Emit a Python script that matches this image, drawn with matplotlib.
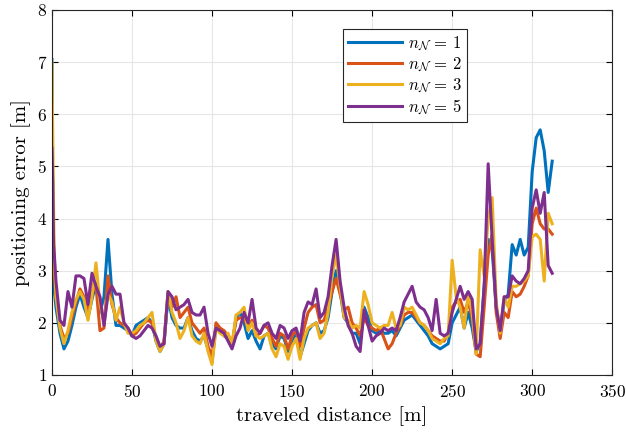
import numpy as np
import matplotlib
matplotlib.use("Agg")
import matplotlib.pyplot as plt

plt.rcParams['font.family'] = 'serif'
plt.rcParams['font.serif'] = ['cmr10']
plt.rcParams['mathtext.fontset'] = 'cm'
plt.rcParams['axes.formatter.use_mathtext'] = True

# traveled distance [m]
dist = np.concatenate([[0, 0.5, 1, 1.5], np.arange(2.5, 312.6, 2.5)])

err_n1 = [7.05, 3.4, 2.9, 2.6,
          2.3, 1.8, 1.5, 1.65, 1.95, 2.3, 2.55, 2.3, 2.1, 2.45, 2.75, 2.2,
          2.5, 3.6, 2.55, 1.95, 1.95, 1.9, 1.85, 1.75, 1.95, 2.0, 2.05, 2.1,
          2.0, 1.65, 1.45, 1.6, 2.5, 2.1, 1.95, 1.9, 1.9, 2.1, 1.85, 1.7,
          1.65, 1.75, 1.5, 1.25, 1.95, 1.85, 1.75, 1.7, 1.55, 2.1, 2.2, 2.0,
          1.7, 1.85, 1.65, 1.5, 1.75, 1.8, 1.6, 1.5, 1.75, 1.7, 1.45, 1.6,
          1.8, 1.35, 1.6, 1.85, 1.95, 2.0, 1.8, 1.85, 2.1, 2.6, 3.0, 2.6,
          2.1, 2.0, 1.8, 1.8, 1.6, 2.3, 2.1, 1.85, 1.8, 1.85, 1.8, 1.8,
          1.85, 1.75, 1.9, 2.05, 2.1, 2.15, 2.05, 1.95, 1.85, 1.75, 1.6, 1.55,
          1.5, 1.55, 1.6, 2.0, 2.15, 2.3, 1.9, 2.2, 1.9, 1.45, 1.6, 2.7,
          3.6, 3.4, 2.3, 1.85, 2.4, 2.55, 3.5, 3.3, 3.6, 3.3, 3.45, 4.9,
          5.55, 5.7, 5.3, 4.5, 5.1]
err_n2 = [4.5, 4.4, 3.6, 3.0,
          2.5, 1.95, 1.7, 1.8, 2.1, 2.4, 2.65, 2.5, 2.2, 2.6, 2.7, 1.85,
          1.9, 2.9, 2.35, 2.1, 2.0, 1.95, 1.9, 1.75, 1.8, 1.9, 2.0, 2.05,
          2.0, 1.7, 1.5, 1.65, 2.55, 2.3, 2.5, 2.1, 2.2, 2.3, 2.0, 1.9,
          1.8, 1.9, 1.55, 1.35, 2.0, 1.9, 1.85, 1.75, 1.6, 2.05, 2.1, 2.1,
          1.9, 2.05, 1.75, 1.8, 1.95, 1.9, 1.7, 1.55, 1.8, 1.75, 1.5, 1.75,
          1.85, 1.55, 1.9, 2.2, 2.3, 2.35, 2.0, 2.05, 2.3, 2.6, 2.85, 2.55,
          2.25, 2.3, 2.0, 1.9, 1.75, 2.1, 1.95, 1.9, 1.85, 1.9, 1.7, 1.5,
          1.6, 1.8, 1.95, 2.15, 2.2, 2.2, 2.1, 2.0, 1.95, 1.85, 1.75, 1.7,
          1.65, 1.65, 1.8, 2.3, 2.4, 2.45, 2.2, 2.4, 2.1, 1.4, 1.35, 2.3,
          3.3, 3.7, 2.2, 1.7, 2.2, 2.1, 2.6, 2.5, 2.55, 2.7, 2.9, 3.9,
          4.2, 3.9, 3.8, 3.8, 3.7]
err_n3 = [7.0, 5.6, 4.2, 3.2,
          2.5, 1.9, 1.6, 1.85, 2.2, 2.45, 2.6, 2.45, 2.05, 2.5, 3.15, 2.35,
          2.0, 2.55, 2.4, 2.05, 2.3, 2.0, 1.8, 1.8, 1.85, 1.95, 2.0, 2.1,
          2.2, 1.65, 1.45, 1.6, 2.6, 2.2, 2.0, 1.7, 1.85, 2.1, 1.75, 1.65,
          1.6, 1.8, 1.45, 1.2, 1.9, 1.8, 1.75, 1.8, 1.6, 2.15, 2.2, 2.3,
          1.85, 2.0, 1.75, 1.7, 1.75, 1.8, 1.5, 1.35, 1.6, 1.55, 1.3, 1.55,
          1.7, 1.3, 1.7, 1.9, 1.95, 2.0, 1.7, 1.8, 2.2, 2.9, 3.3, 2.7,
          2.1, 2.05, 1.9, 1.95, 1.9, 2.6, 2.35, 2.0, 1.95, 1.9, 1.95, 1.95,
          2.2, 1.9, 1.95, 2.3, 2.25, 2.3, 2.15, 2.0, 1.95, 1.85, 1.7, 1.65,
          1.6, 1.7, 1.75, 3.2, 2.5, 2.3, 1.9, 2.55, 2.2, 1.4, 3.4, 2.9,
          4.0, 4.4, 2.4, 1.8, 2.5, 2.3, 2.7, 2.7, 2.75, 2.8, 2.9, 3.65,
          3.7, 3.6, 2.8, 4.1, 3.9]
err_n5 = [5.35, 4.7, 3.5, 3.3,
          2.8, 2.05, 1.95, 2.6, 2.3, 2.9, 2.9, 2.85, 2.35, 2.95, 2.7, 2.5,
          1.95, 2.55, 2.7, 2.55, 2.55, 2.0, 1.9, 1.75, 1.7, 1.75, 1.85, 1.95,
          1.9, 1.75, 1.55, 1.6, 2.6, 2.5, 2.25, 2.3, 2.35, 2.45, 2.2, 2.15,
          2.15, 2.3, 1.8, 1.55, 1.9, 1.85, 1.8, 1.65, 1.5, 1.75, 1.9, 2.2,
          2.0, 2.45, 1.9, 1.8, 1.95, 2.0, 1.8, 1.7, 1.95, 1.9, 1.7, 1.85,
          1.9, 1.65, 2.2, 2.4, 2.35, 2.65, 2.1, 2.2, 2.5, 3.1, 3.6, 2.8,
          2.3, 1.95, 1.8, 1.55, 1.45, 2.25, 1.95, 1.65, 1.75, 1.8, 1.9, 1.85,
          1.9, 1.85, 2.1, 2.4, 2.55, 2.7, 2.4, 2.3, 2.25, 2.1, 1.85, 2.45,
          1.8, 1.75, 1.8, 2.2, 2.45, 2.7, 2.45, 2.6, 2.45, 1.5, 1.6, 2.7,
          5.05, 3.6, 2.3, 1.85, 2.5, 2.5, 2.9, 2.8, 2.75, 2.85, 3.0, 4.2,
          4.55, 4.1, 4.5, 3.1, 2.95]

labels = [r'$n_{\mathcal{N}}\,=\,1$', r'$n_{\mathcal{N}}\,=\,2$',
          r'$n_{\mathcal{N}}\,=\,3$', r'$n_{\mathcal{N}}\,=\,5$']
colors = ['#0072BD', '#D95319', '#EDB120', '#7E2F8E']

fig = plt.figure(figsize=(6.26, 4.32), dpi=100)
ax = fig.add_axes([0.083, 0.132, 0.895, 0.845])

for y, lab, c in zip([err_n1, err_n2, err_n3, err_n5], labels, colors):
    ax.plot(dist, y, color=c, linewidth=2.2, label=lab)

ax.set_xlim(0, 350)
ax.set_ylim(1, 8)
ax.set_xticks(np.arange(0, 351, 50))
ax.set_yticks(np.arange(1, 9, 1))
ax.grid(True, color='#e6e6e6', linewidth=0.8)
ax.set_axisbelow(True)
ax.tick_params(direction='in', length=4, labelsize=12.5, top=True, right=True)
ax.tick_params(axis='x', pad=6)
for s in ax.spines.values():
    s.set_color('#262626')
    s.set_linewidth(0.8)

ax.set_xlabel('traveled distance [m]', fontsize=15, labelpad=4)
ax.set_ylabel('positioning error [m]', fontsize=15, labelpad=4)

leg = ax.legend(loc='upper left', bbox_to_anchor=(0.505, 0.97), fontsize=12,
                handlelength=3.2, fancybox=False, edgecolor='#262626',
                framealpha=1, borderpad=0.3, labelspacing=0.15,
                handletextpad=0.4)
leg.get_frame().set_linewidth(0.8)

fig.savefig('out.png', dpi=100)
